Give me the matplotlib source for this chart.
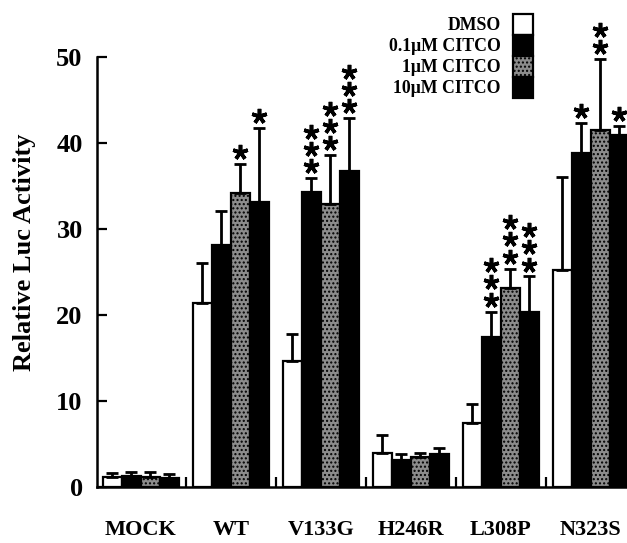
import matplotlib
matplotlib.use("Agg")
import matplotlib.pyplot as plt
import matplotlib.transforms as mtransforms
from matplotlib.patches import Patch
import numpy as np

plt.rcParams['font.family'] = ['Liberation Serif', 'DejaVu Serif']
plt.rcParams['font.weight'] = 'bold'
plt.rcParams['hatch.linewidth'] = 1.0

groups = ["MOCK", "WT", "V133G", "H246R", "L308P", "N323S"]
series = ["DMSO", "0.1\u03bcM CITCO", "1\u03bcM CITCO", "10\u03bcM CITCO"]

dmso = [1.2, 21.4, 14.7, 4.0, 7.5, 25.2]
dmso_err = [0.4, 4.6, 3.1, 2.0, 2.2, 10.8]
c01 = [1.3, 28.1, 34.3, 3.2, 17.4, 38.8]
c01_err = [0.5, 4.0, 1.6, 0.6, 3.0, 3.5]
c1 = [1.2, 34.2, 32.9, 3.5, 23.1, 41.5]
c1_err = [0.5, 3.4, 5.7, 0.5, 2.3, 8.3]
c10 = [1.1, 33.2, 36.8, 3.9, 20.3, 40.9]
c10_err = [0.4, 8.6, 6.1, 0.6, 4.2, 1.1]

stars01 = [0, 0, 3, 0, 3, 1]
stars1 = [0, 1, 3, 0, 3, 2]
stars10 = [0, 1, 3, 0, 3, 1]

values = [dmso, c01, c1, c10]
errors = [dmso_err, c01_err, c1_err, c10_err]
stars = [[0] * 6, stars01, stars1, stars10]

fig = plt.figure(figsize=(6.27, 5.43), dpi=100)
ax = fig.add_axes([0.154, 0.103, 0.846, 0.792])

faces = ['white', 'black', '#8c8c8c', 'black']
hatches = [None, None, '....', None]
w = 0.211
x = np.arange(len(groups))
offs = [-1.5, -0.5, 0.5, 1.5]

for k in range(4):
    xs = x + offs[k] * w
    ax.bar(xs, values[k], width=w, color=faces[k], edgecolor='black',
           linewidth=1.6, hatch=hatches[k], zorder=2)
    ax.errorbar(xs, values[k], yerr=[np.zeros(6), errors[k]], fmt='none',
                ecolor='black', elinewidth=2.0, capsize=4, capthick=2.0, zorder=3)
    for i in range(6):
        n = stars[k][i]
        top = values[k][i] + errors[k][i]
        for j in range(n):
            tr = mtransforms.offset_copy(ax.transData, fig=fig, x=0,
                                         y=8.5 + j * 12.5, units='points')
            ax.plot([xs[i]], [top], marker=(5, 2, 0), markersize=11,
                    markeredgewidth=2.6, color='black', transform=tr,
                    clip_on=False, zorder=4)

ax.set_xlim(-0.49, 5.4)
ax.set_ylim(0, 50)
ax.set_yticks([0, 10, 20, 30, 40, 50])
ax.set_yticklabels(['0', '10', '20', '30', '40', '50'], fontsize=19, fontweight='bold')
ax.tick_params(axis='y', direction='in', length=7, width=1.6, pad=10)

ax.set_xticks(np.arange(0.5, 5.0, 1.0))
ax.set_xticklabels([])
ax.tick_params(axis='x', direction='in', length=7, width=1.6)
for i, g in enumerate(groups):
    ax.text(x[i], -5.0, g, ha='center', va='center', fontsize=16,
            fontweight='bold')

ax.set_ylabel("Relative Luc Activity", fontsize=19, fontweight='bold')
ax.yaxis.set_label_coords(-0.114, 0.545)

for s in ['top', 'right']:
    ax.spines[s].set_visible(False)
for s in ['left', 'bottom']:
    ax.spines[s].set_linewidth(1.8)

handles = [Patch(facecolor=faces[k], edgecolor='black', linewidth=1.6,
                 hatch=hatches[k]) for k in range(4)]
leg = ax.legend(handles, series, loc='upper left', bbox_to_anchor=(0.528, 1.13),
                frameon=False, markerfirst=False, fontsize=12.8,
                handlelength=1.1, handleheight=1.45, labelspacing=0.0,
                handletextpad=0.7, borderpad=0.2)
for t in leg.get_texts():
    t.set_fontweight('bold')
    t.set_ha('right')

fig.savefig("out.png", dpi=100)
